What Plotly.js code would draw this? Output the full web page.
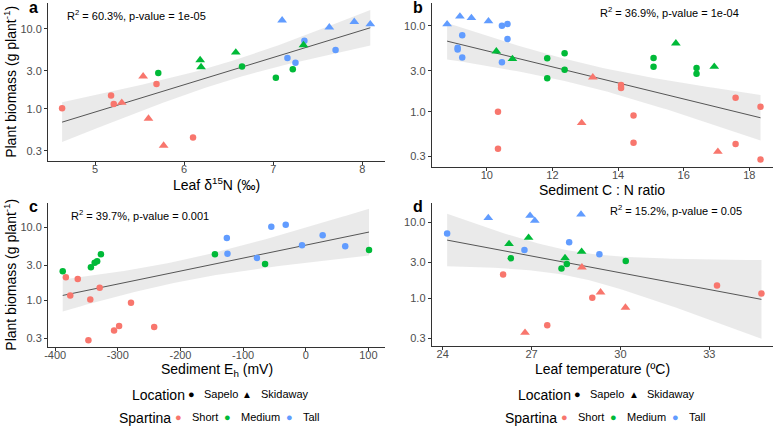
<!DOCTYPE html>
<html>
<head>
<meta charset="utf-8">
<script src="https://cdn.plot.ly/plotly-3.0.1.min.js"></script>
<style>html,body{margin:0;padding:0;background:#fff;}#chart{width:777px;height:427px;}</style>
</head>
<body>
<div id="chart"></div>
<script>
// ---------------- data ----------------
const spartinaTypes = ['Short', 'Medium', 'Tall'];
const locations = ['Sapelo', 'Skidaway'];
const typeColors = {Short: '#F8766D', Medium: '#00BA38', Tall: '#619CFF'};
const siteSymbols = {Sapelo: 'circle', Skidaway: 'triangle-up'};

// Panel a: leaf d15N
const aX = [4.63, 5.18, 5.21, 5.69, 6.10, 5.30, 5.54, 5.60, 5.77,
            5.71, 6.65, 7.03, 7.22, 6.18, 6.19, 6.58, 7.34,
            7.16, 7.25, 7.35, 7.70, 7.10, 7.63, 7.91, 8.09];
const aY = [1.02, 1.47, 1.15, 2.05, 0.44, 1.20, 2.55, 0.76, 0.35,
            2.81, 3.37, 2.45, 3.12, 4.07, 3.33, 5.07, 6.26,
            4.31, 3.77, 7.09, 5.42, 12.7, 10.4, 12.2, 11.4];
const aType = ['Short','Short','Short','Short','Short','Short','Short','Short','Short',
               'Medium','Medium','Medium','Medium','Medium','Medium','Medium','Medium',
               'Tall','Tall','Tall','Tall','Tall','Tall','Tall','Tall'];
const aSite = ['Sapelo','Sapelo','Sapelo','Sapelo','Sapelo','Skidaway','Skidaway','Skidaway','Skidaway',
               'Sapelo','Sapelo','Sapelo','Sapelo','Skidaway','Skidaway','Skidaway','Skidaway',
               'Sapelo','Sapelo','Sapelo','Sapelo','Skidaway','Skidaway','Skidaway','Skidaway'];

// Panel b: sediment C:N
const bX = [8.79, 9.18, 9.53, 10.05,
            9.11, 9.11, 9.25, 9.25, 10.46, 10.63, 10.63, 10.46,
            10.29, 10.78, 15.76, 16.93,
            11.84, 11.84, 12.37, 12.37, 15.08, 15.08, 16.39, 16.39,
            13.23, 12.89, 17.04,
            10.34, 10.34, 14.09, 14.09, 14.47, 14.47, 17.58, 17.58, 18.34, 18.34];
const bY = [10.4, 12.8, 12.3, 11.3,
            5.55, 5.3, 7.72, 4.28, 10.0, 10.5, 7.0, 3.75,
            5.03, 4.1, 6.23, 3.34,
            4.17, 2.44, 4.77, 3.08, 4.21, 3.34, 3.22, 2.77,
            2.51, 0.74, 0.343,
            1.0, 0.371, 2.04, 1.88, 0.9, 0.436, 1.45, 0.42, 1.14, 0.277];
const bType = ['Tall','Tall','Tall','Tall',
               'Tall','Tall','Tall','Tall','Tall','Tall','Tall','Tall',
               'Medium','Medium','Medium','Medium',
               'Medium','Medium','Medium','Medium','Medium','Medium','Medium','Medium',
               'Short','Short','Short',
               'Short','Short','Short','Short','Short','Short','Short','Short','Short','Short'];
const bSite = ['Skidaway','Skidaway','Skidaway','Skidaway',
               'Sapelo','Sapelo','Sapelo','Sapelo','Sapelo','Sapelo','Sapelo','Sapelo',
               'Skidaway','Skidaway','Skidaway','Skidaway',
               'Sapelo','Sapelo','Sapelo','Sapelo','Sapelo','Sapelo','Sapelo','Sapelo',
               'Skidaway','Skidaway','Skidaway',
               'Sapelo','Sapelo','Sapelo','Sapelo','Sapelo','Sapelo','Sapelo','Sapelo','Sapelo','Sapelo'];

// Panel c: sediment Eh
const cX = [-388, -343, -337, -333, -327, -145, -65, 101,
            -383, -364, -376, -329, -344, -279, -347, -306, -298, -242,
            -126, -125, -78, -55, -32, -6, 27, 63];
const cY = [2.48, 2.82, 3.26, 3.4, 4.25, 4.25, 3.13, 4.88,
            2.05, 1.95, 1.15, 1.48, 1.02, 0.92, 0.28, 0.38, 0.44, 0.425,
            7.13, 4.34, 3.78, 10.2, 10.8, 5.65, 7.76, 5.48];
const cType = ['Medium','Medium','Medium','Medium','Medium','Medium','Medium','Medium',
               'Short','Short','Short','Short','Short','Short','Short','Short','Short','Short',
               'Tall','Tall','Tall','Tall','Tall','Tall','Tall','Tall'];
const cSite = cType.map(() => 'Sapelo');

// Panel d: leaf temperature
const dX = [25.54, 26.95, 27.11, 28.67, 24.15, 26.76, 28.27, 29.29,
            26.24, 26.90, 28.13, 28.69, 26.30, 28.01, 28.19, 30.18,
            28.70, 29.33, 30.17, 26.78, 26.04, 29.05, 27.53, 33.26, 34.76];
const dY = [11.4, 12.2, 10.5, 12.7, 7.1, 4.33, 5.46, 3.79,
            5.19, 6.28, 3.39, 4.11, 3.36, 2.46, 2.83, 3.1,
            2.56, 1.2, 0.754, 0.353, 2.05, 1.02, 0.44, 1.47, 1.16];
const dType = ['Tall','Tall','Tall','Tall','Tall','Tall','Tall','Tall',
               'Medium','Medium','Medium','Medium','Medium','Medium','Medium','Medium',
               'Short','Short','Short','Short','Short','Short','Short','Short','Short'];
const dSite = ['Skidaway','Skidaway','Skidaway','Skidaway','Sapelo','Sapelo','Sapelo','Sapelo',
               'Skidaway','Skidaway','Skidaway','Skidaway','Sapelo','Sapelo','Sapelo','Sapelo',
               'Skidaway','Skidaway','Skidaway','Skidaway','Sapelo','Sapelo','Sapelo','Sapelo','Sapelo'];

const statsText = ['R<sup>2</sup> = 60.3%, p-value = 1e-05',
                   'R<sup>2</sup> = 36.9%, p-value = 1e-04',
                   'R<sup>2</sup> = 39.7%, p-value = 0.001',
                   'R<sup>2</sup> = 15.2%, p-value = 0.05'];
const panelLetters = ['a', 'b', 'c', 'd'];
const xTitles = ['Leaf δ<sup>15</sup>N (‰)', 'Sediment C : N ratio',
                 'Sediment E<sub>h</sub> (mV)', 'Leaf temperature (ºC)'];
const yTitle = 'Plant biomass (g plant<sup>-1</sup>)';
const yTickVals = [0.3, 1, 3, 10];
const yTickText = ['0.3', '1.0', '3.0', '10.0'];
const xTickVals = [[5, 6, 7, 8], [10, 12, 14, 16, 18], [-400, -300, -200, -100, 0, 100], [24, 27, 30, 33]];
const xTickText = [['5','6','7','8'], ['10','12','14','16','18'],
                   ['-400','-300','-200','-100','0','100'], ['24','27','30','33']];

// ---------------- layout geometry ----------------
const W = 777, H = 427;
const FONT = 'Liberation Sans, Arial, sans-serif';
const panels = [
  {x: aX, y: aY, t: aType, s: aSite, xl: 48, xr: 385, yt: 3, yb: 160.7, xr0: [4.472, 8.255], yr: [-0.644, 1.320]},
  {x: bX, y: bY, t: bType, s: bSite, xl: 431.7, xr: 773, yt: 3, yb: 166.7, xr0: [8.32, 18.72], yr: [-0.640, 1.264]},
  {x: cX, y: cY, t: cType, s: cSite, xl: 48, xr: 385, yt: 202.7, yb: 346.7, xr0: [-411.5, 126.5], yr: [-0.642, 1.338]},
  {x: dX, y: dY, t: dType, s: dSite, xl: 431.7, xr: 773, yt: 202.7, yb: 346, xr0: [23.63, 35.15], yr: [-0.628, 1.258]}
];

function tQuant(df) {
  const z = 1.959964;
  return z + (z*z*z + z) / (4*df) + (5*Math.pow(z,5) + 16*z*z*z + 3*z) / (96*df*df)
           + (3*Math.pow(z,7) + 19*Math.pow(z,5) + 17*z*z*z - 15*z) / (384*df*df*df);
}
function lmFit(xs, ys) {
  const n = xs.length;
  const ly = ys.map(v => Math.log10(v));
  const xbar = xs.reduce((a,b)=>a+b,0)/n, ybar = ly.reduce((a,b)=>a+b,0)/n;
  let sxx = 0, sxy = 0;
  for (let i = 0; i < n; i++) { sxx += (xs[i]-xbar)**2; sxy += (xs[i]-xbar)*(ly[i]-ybar); }
  const b = sxy/sxx, a = ybar - b*xbar;
  let sse = 0;
  for (let i = 0; i < n; i++) sse += (ly[i] - a - b*xs[i])**2;
  const s = Math.sqrt(sse/(n-2)), t = tQuant(n-2);
  const xmin = Math.min(...xs), xmax = Math.max(...xs);
  const gx = [], gy = [], up = [], lo = [];
  const m = 80;
  for (let k = 0; k <= m; k++) {
    const xv = xmin + (xmax - xmin)*k/m;
    const yh = a + b*xv;
    const se = s*Math.sqrt(1/n + (xv-xbar)**2/sxx);
    gx.push(xv); gy.push(Math.pow(10, yh));
    up.push(Math.pow(10, yh + t*se)); lo.push(Math.pow(10, yh - t*se));
  }
  return {gx, gy, up, lo};
}

const traces = [];
const layout = {
  width: W, height: H,
  margin: {l: 0, r: 0, t: 0, b: 0},
  paper_bgcolor: '#ffffff', plot_bgcolor: 'rgba(0,0,0,0)',
  showlegend: false,
  font: {family: FONT, color: '#000'},
  annotations: []
};
const px = v => v / W, py = v => 1 - v / H;

panels.forEach((p, i) => {
  const k = i === 0 ? '' : String(i + 1);
  const xa = 'x' + k, ya = 'y' + k;
  const f = lmFit(p.x, p.y);
  traces.push({
    type: 'scatter', mode: 'lines', xaxis: xa, yaxis: ya,
    x: f.gx.concat(f.gx.slice().reverse()),
    y: f.up.concat(f.lo.slice().reverse()),
    fill: 'toself', fillcolor: 'rgba(160,160,160,0.22)', line: {width: 0}, hoverinfo: 'skip'
  });
  traces.push({
    type: 'scatter', mode: 'lines', xaxis: xa, yaxis: ya,
    x: f.gx, y: f.gy, line: {color: '#555555', width: 1}, hoverinfo: 'skip'
  });
  locations.forEach(site => {
    spartinaTypes.forEach(tp => {
      const xs = [], ys = [];
      p.x.forEach((v, j) => { if (p.t[j] === tp && p.s[j] === site) { xs.push(v); ys.push(p.y[j]); } });
      if (!xs.length) return;
      traces.push({
        type: 'scatter', mode: 'markers', xaxis: xa, yaxis: ya, x: xs, y: ys,
        name: tp + ' ' + site,
        marker: {color: typeColors[tp], symbol: siteSymbols[site],
                 size: site === 'Sapelo' ? 6.5 : 8.5, line: {width: 0}}
      });
    });
  });
  layout['xaxis' + k] = {
    domain: [px(p.xl), px(p.xr)], anchor: ya, range: p.xr0,
    showline: true, linecolor: '#333333', linewidth: 1,
    ticks: 'outside', ticklen: 3, tickcolor: '#333333', tickwidth: 1,
    ticklabelstandoff: -5,
    tickvals: xTickVals[i], ticktext: xTickText[i],
    tickfont: {family: FONT, size: 11, color: '#4D4D4D'},
    showgrid: false, zeroline: false, automargin: false, fixedrange: true
  };
  layout['yaxis' + k] = {
    domain: [py(p.yb), py(p.yt)], anchor: xa, type: 'log', range: p.yr,
    showline: true, linecolor: '#333333', linewidth: 1,
    ticks: 'outside', ticklen: 3, tickcolor: '#333333', tickwidth: 1,
    tickvals: yTickVals, ticktext: yTickText,
    tickfont: {family: FONT, size: 11, color: '#4D4D4D'},
    showgrid: false, zeroline: false, automargin: false, fixedrange: true
  };
  // x title
  layout.annotations.push({
    xref: 'paper', yref: 'paper', x: px((p.xl + p.xr) / 2), y: py(p.yb + 23),
    xanchor: 'center', yanchor: 'middle', showarrow: false,
    text: xTitles[i], font: {family: FONT, size: 14, color: '#000'}
  });
  // panel letter
  layout.annotations.push({
    xref: 'paper', yref: 'paper', x: px(p.xl - 21), y: py(p.yt + 4),
    xanchor: 'left', yanchor: 'middle', showarrow: false,
    text: '<b>' + panelLetters[i] + '</b>', font: {family: FONT, size: 16, color: '#000'}
  });
});

// y titles (left column only)
[panels[0], panels[2]].forEach(p => {
  layout.annotations.push({
    xref: 'paper', yref: 'paper', x: px(10), y: py((p.yt + p.yb) / 2),
    xanchor: 'center', yanchor: 'middle', showarrow: false, textangle: -90,
    text: yTitle, font: {family: FONT, size: 14, color: '#000'}
  });
});

// stats text
const statPos = [[65, 15, 'left'], [741, 12, 'right'], [68.5, 214.5, 'left'], [743.5, 210, 'right']];
statsText.forEach((s, i) => {
  layout.annotations.push({
    xref: 'paper', yref: 'paper', x: px(statPos[i][0]), y: py(statPos[i][1]),
    xanchor: statPos[i][2], yanchor: 'middle', showarrow: false,
    text: s, font: {family: FONT, size: 11, color: '#000'}
  });
});

// legends (one under each column)
[0, 386].forEach(off => {
  const add = (x, y, text, size, anchor, color) => layout.annotations.push({
    xref: 'paper', yref: 'paper', x: px(x + off), y: py(y), xanchor: anchor, yanchor: 'middle',
    showarrow: false, text: text, font: {family: FONT, size: size, color: color || '#000'}
  });
  add(130, 395, 'Location', 14, 'left');
  const locX = [[191, 202], [247.5, 259]];
  locations.forEach((loc, j) => {
    add(locX[j][0], 394, siteSymbols[loc] === 'circle' ? '●' : '▲', j === 0 ? 11 : 10, 'center');
    add(locX[j][1], 394, loc, 11, 'left');
  });
  add(117, 418, 'Spartina', 14, 'left');
  const typX = [[178, 190], [227.5, 239], [289, 301]];
  spartinaTypes.forEach((tp, j) => {
    add(typX[j][0], 417, '●', 11, 'center', typeColors[tp]);
    add(typX[j][1], 417, tp, 11, 'left');
  });
});

Plotly.newPlot('chart', traces, layout, {staticPlot: true, displayModeBar: false});
</script>
</body>
</html>
